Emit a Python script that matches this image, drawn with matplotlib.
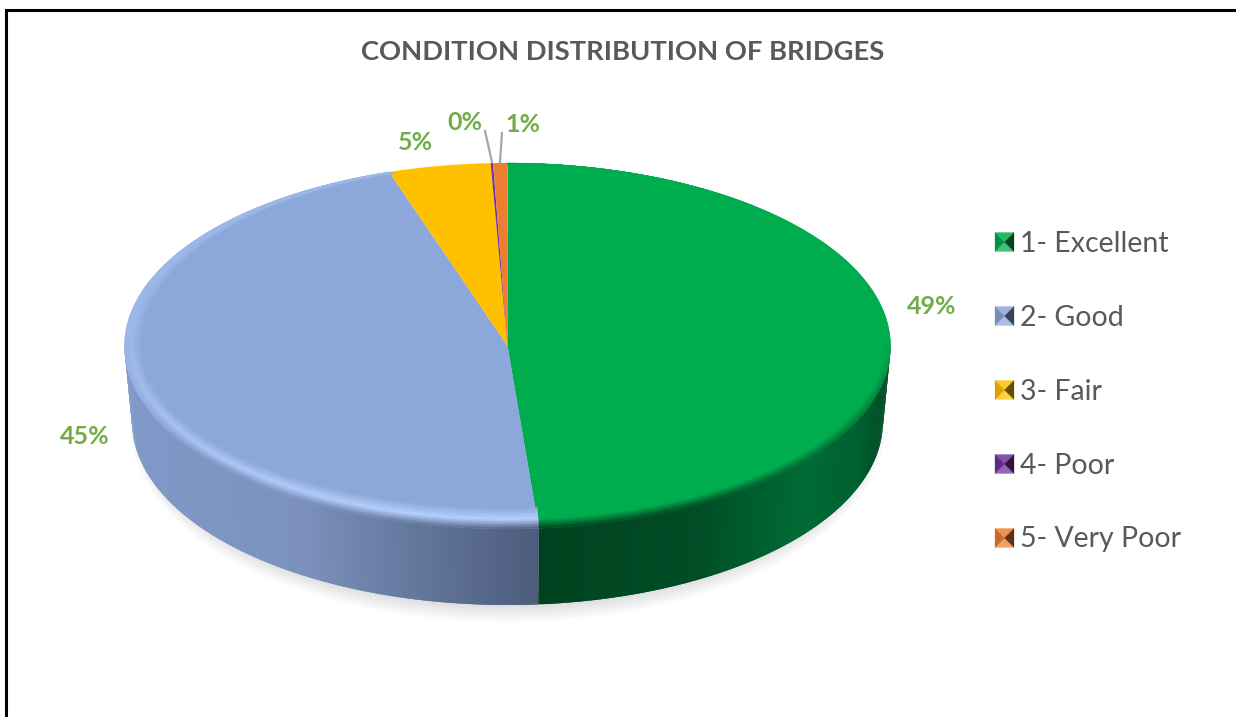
import matplotlib
matplotlib.use('Agg')
import matplotlib.pyplot as plt
from matplotlib.collections import PolyCollection
from matplotlib.colors import to_rgb
from matplotlib.patches import Ellipse, Polygon
import numpy as np

categories = ['1- Excellent', '2- Good', '3- Fair', '4- Poor', '5- Very Poor']
values = [48.7, 46.3, 4.3, 0.1, 0.6]
pct_labels = ['49%', '45%', '5%', '0%', '1%']
colors = ['#00AD4E', '#8CA7DA', '#FFC000', '#7030A0', '#ED7D31']
title = 'CONDITION DISTRIBUTION OF BRIDGES'

plt.rcParams['font.family'] = ['Lato', 'DejaVu Sans']

W, H = 1236, 717
CX, CY, RX, RY = 507.5, 346, 383, 183
DEPTH = 76 / RY

# side wall shading, stops are (x in pie units, colour)
wall_stops = {
    0: [(0.08, '#00421F'), (0.5, '#004D26'), (0.78, '#006B35'), (0.93, '#005F30'), (1.0, '#004A25')],
    1: [(-1.0, '#8099C9'), (-0.55, '#7C92BD'), (-0.23, '#62769C'), (0.08, '#4D5C7C')],
}
rim_light = {0: ('#0CB65A', 0.1), 1: ('#B8D2FF', 1.0)}


def wall_color(i, x):
    stops = wall_stops[i]
    xs = [s[0] for s in stops]
    rgb = np.array([to_rgb(s[1]) for s in stops])
    return np.array([np.interp(x, xs, rgb[:, k]) for k in range(3)])


fig = plt.figure(figsize=(W / 100, H / 100), dpi=100)
ax = fig.add_axes([0, 0, 1, 1])

wedges, _ = ax.pie(values, colors=colors, startangle=90, counterclock=False, radius=1,
                   wedgeprops={'linewidth': 0, 'zorder': 5})
ax.set_aspect('auto')
ax.set_xlim((0 - CX) / RX, (W - CX) / RX)
ax.set_ylim((CY - H) / RY, CY / RY)
ax.axis('off')

# soft shadow under the disc
for k in range(8):
    ax.add_patch(Ellipse((0.0, -DEPTH - 0.03), 2 * (0.95 + k * 0.005), 2 * (0.98 + k * 0.012),
                         fc='#000000', ec='none', alpha=0.014, zorder=1))

# side wall and rim per wedge
for i, w in enumerate(wedges):
    lo, hi = max(w.theta1, -180), min(w.theta2, 0)
    if hi > lo:
        th = np.radians(np.linspace(lo, hi, 160))
        quads, cols = [], []
        for j in range(len(th) - 1):
            # each strip runs under the next one so no seams show
            a, b = th[j], th[min(j + 2, len(th) - 1)]
            quads.append([(np.cos(a), np.sin(a)), (np.cos(b), np.sin(b)),
                          (0.98 * np.cos(b), np.sin(b) - DEPTH), (0.98 * np.cos(a), np.sin(a) - DEPTH)])
            cols.append(wall_color(i, np.cos((th[j] + th[j + 1]) / 2)))
        ax.add_collection(PolyCollection(quads, facecolors=cols, edgecolors='none', linewidths=0, zorder=3))

    if i not in rim_light:
        continue
    light, amount = rim_light[i]
    light = np.array(to_rgb(light))
    base = np.array(to_rgb(colors[i]))
    th = np.radians(np.linspace(w.theta1, w.theta2, 240))
    ts = np.linspace(0, 1, 15)
    quads, cols = [], []
    for t0, t1 in zip(ts[:-1], ts[1:]):
        for a, b in zip(th[:-1], th[1:]):
            def pt(t, ang):
                s = np.sin(ang)
                return ((1 - 0.045 * (1 - t)) * np.cos(ang),
                        (1 - (0.115 if s < 0 else 0.01) * (1 - t)) * s)
            quads.append([pt(t0, a), pt(t0, b), pt(t1, b), pt(t1, a)])
            mid, s = (t0 + t1) / 2, np.sin((a + b) / 2)
            up = amount * (0.4 + 0.6 * np.clip(-s, 0, 1))
            c = base + (light - base) * up * np.clip(mid / 0.55, 0, 1)
            if mid > 0.55:
                dark = np.clip((mid - 0.55) / 0.45, 0, 1) * np.clip(-s * 1.5 + 0.05, 0, 1)
                c = c + (wall_color(i, np.cos((a + b) / 2)) - c) * dark
            cols.append(c)
    ax.add_collection(PolyCollection(quads, facecolors=cols, edgecolors=cols, linewidths=0.3, zorder=6))

# overlay in pixels for frame, title, labels and legend
ov = fig.add_axes([0, 0, 1, 1])
ov.set_xlim(0, W)
ov.set_ylim(H, 0)
ov.axis('off')
ov.patch.set_alpha(0)

ov.plot([6.0, 6.0, W], [H, 9.5, 9.5], color='black', lw=2.2, solid_joinstyle='miter')
ov.text(623, 52, title, ha='center', va='center', fontsize=19.7, fontweight='bold', color='#595959')

label_pos = [(932, 307), (85, 437), (415, 142), (465, 122), (523, 125)]
for txt, (x, y) in zip(pct_labels, label_pos):
    ov.text(x, y, txt, ha='center', va='center', fontsize=18, fontweight='bold', color='#70AD47')

ov.plot([485, 492], [131, 162], color='#A6A6A6', lw=1.6)
ov.plot([502, 500], [133, 162], color='#A6A6A6', lw=1.6)

for i, name in enumerate(categories):
    y = 242 + 74 * i
    x0, x1, y0, y1 = 995, 1014, y - 9.5, y + 9.5
    xm, ym = (x0 + x1) / 2, (y0 + y1) / 2
    c = np.array(to_rgb(colors[i]))
    faces = [([(x0, y0), (x1, y0), (xm, ym)], c + (1 - c) * 0.15),
             ([(x0, y1), (x1, y1), (xm, ym)], c + (1 - c) * 0.25),
             ([(x0, y0), (x0, y1), (xm, ym)], c * 0.85),
             ([(x1, y0), (x1, y1), (xm, ym)], c * 0.4)]
    for pts, col in faces:
        ov.add_patch(Polygon(pts, closed=True, fc=col, ec=col, lw=0.2))
    ov.text(1020, y + 1.5, name, ha='left', va='center', fontsize=20.5, color='#595959')

fig.savefig('out.png', dpi=100)
